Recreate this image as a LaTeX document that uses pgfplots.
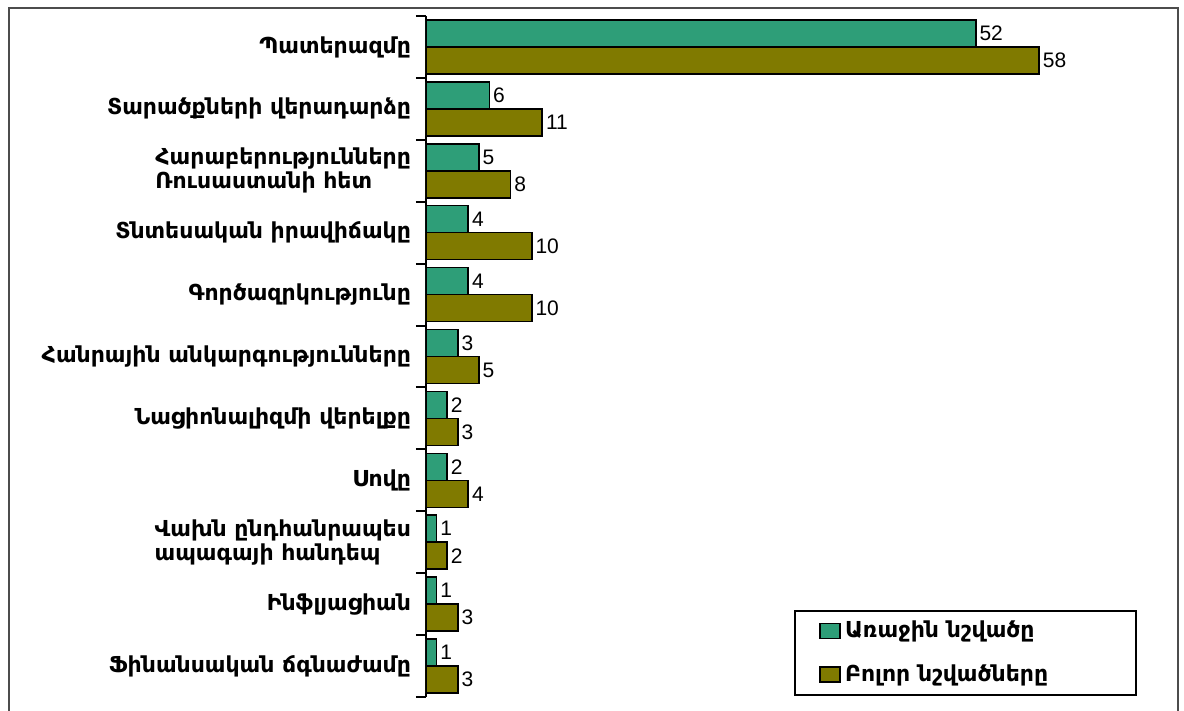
\documentclass[border=0pt]{standalone}
\usepackage{fontspec}
\setmainfont{DejaVu Sans}
\newfontfamily\numfont{Liberation Sans}
\usepackage{pgfplots}
\pgfplotsset{compat=1.18}
\definecolor{cgreen}{RGB}{46,158,120}
\definecolor{colive}{RGB}{128,122,0}
\begin{document}
\begin{tikzpicture}
\begin{axis}[
  width=370pt, height=340.5pt, scale only axis,
  xbar, bar width=13.5pt,
  xmin=0, xmax=70, ymin=0.5, ymax=11.5,
  axis y line*=left, axis x line=none,
  y axis line style={line width=1pt},
  ytick={1,...,11},
  yticklabels={Ֆինանսական ճգնաժամը, Ինֆլյացիան, {Վախն ընդհանրապես\\ապագայի հանդեպ}, Սովը, Նացիոնալիզմի վերելքը, Հանրային անկարգությունները, Գործազրկությունը, Տնտեսական իրավիճակը, {Հարաբերությունները\\Ռուսաստանի հետ}, Տարածքների վերադարձը, Պատերազմը},
  major tick length=0pt,
  minor ytick={0.5,1.5,...,11.5}, minor tick length=5pt, tick align=outside,
  minor tick style={line width=1pt, black},
  yticklabel style={font=\bfseries\fontsize{11}{12}\selectfont, align=left, xshift=-4pt},
  /pgf/number format/assume math mode=true,
  nodes near coords,
  every node near coord/.append style={font=\numfont\fontsize{10.5}{12}\selectfont, anchor=west, inner sep=1.5pt, black},
  legend style={at={(0.961,0.002)}, anchor=south east, draw=black, line width=1pt, font=\bfseries\fontsize{11}{12}\selectfont, row sep=8pt, inner xsep=12pt, inner ysep=3pt},
  legend cell align=left,
  every odd column/.append style={column sep=7pt},
  legend image code/.code={\draw[#1, line width=0.8pt] (0pt,-3.75pt) rectangle (10pt,3.75pt);},
]
\addplot[fill=cgreen, draw=black, line width=0.8pt, bar shift=6.75pt] coordinates {(52,11) (6,10) (5,9) (4,8) (4,7) (3,6) (2,5) (2,4) (1,3) (1,2) (1,1)};
\addplot[fill=colive, draw=black, line width=0.8pt, bar shift=-6.75pt] coordinates {(58,11) (11,10) (8,9) (10,8) (10,7) (5,6) (3,5) (4,4) (2,3) (3,2) (3,1)};
\legend{Առաջին նշվածը, Բոլոր նշվածները\hspace*{30pt}}
\end{axis}
\draw[line width=1pt, black!70] ([shift={(-208.5pt,-7pt)}]current axis.south west) -- ([shift={(-208.5pt,344.5pt)}]current axis.south west) -- ([shift={(376pt,344.5pt)}]current axis.south west) -- ([shift={(376pt,-7pt)}]current axis.south west);
\pgfresetboundingbox
\path[use as bounding box] ([shift={(-213pt,-7pt)}]current axis.south west) rectangle ([shift={(379pt,348.5pt)}]current axis.south west);
\end{tikzpicture}
\end{document}
